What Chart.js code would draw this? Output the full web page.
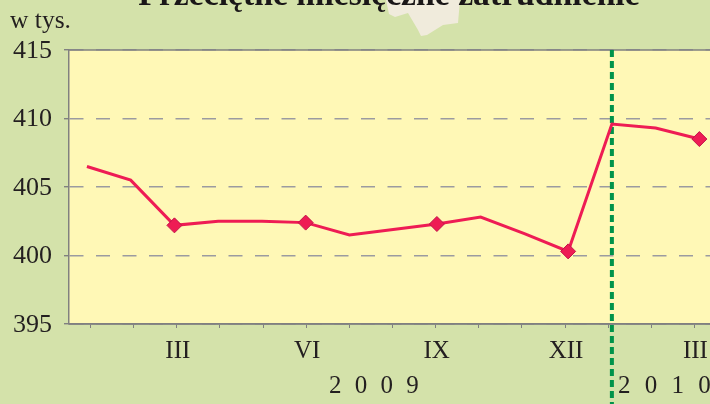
<!DOCTYPE html>
<html>
<head>
<meta charset="utf-8">
<style>
  html, body { margin: 0; padding: 0; width: 710px; height: 404px; overflow: hidden; background: #d4e2aa; }
  canvas { display: block; }
</style>
<script src="https://cdn.jsdelivr.net/npm/chart.js@4"></script>
</head>
<body>
<canvas id="grafico" width="716" height="404"></canvas>
<script>
const etiquetasMes = ['', '', 'III', '', '', 'VI', '', '', 'IX', '', '', 'XII', '', '', 'III'];
const zatrudnienie = [406.5, 405.5, 402.2, 402.5, 402.5, 402.4, 401.5, 401.9, 402.3, 402.8, 401.6, 400.3, 409.6, 409.3, 408.5];
const indiceMes = [0, 1, 2, 3, 4, 5, 6, 7, 8, 9, 10, 11, 12, 13, 14];
const conMarcador = [2, 5, 8, 11, 14];
const ticksY = [395, 400, 405, 410, 415];
const titulo = 'Przeciętne miesięczne zatrudnienie';
const unidad = 'w tys.';
const anio2009 = '2 0 0 9';
const anio2010 = '2 0 1 0';
const indiceCorte = 12; // first month of 2010

const FUENTE = '"Liberation Serif", serif';
const COLOR_TEXTO = '#231f20';
const COLOR_EJE = '#808080';

// Background, decorative shape, title and year captions
const decoracion = {
  id: 'decoracion',
  beforeDraw(chart) {
    const { ctx, chartArea: a } = chart;
    ctx.save();
    ctx.fillStyle = '#fff8b6';
    ctx.fillRect(a.left, a.top, a.right - a.left, a.bottom - a.top);

    ctx.fillStyle = '#f0ebdc';
    ctx.beginPath();
    ctx.moveTo(386, 0);
    ctx.lineTo(389, 14);
    ctx.lineTo(395, 17);
    ctx.lineTo(408, 13);
    ctx.lineTo(418, 30);
    ctx.lineTo(421, 36);
    ctx.lineTo(427, 35);
    ctx.lineTo(443, 25);
    ctx.lineTo(458, 23);
    ctx.lineTo(460, 0);
    ctx.closePath();
    ctx.fill();

    ctx.fillStyle = '#1a1718';
    ctx.textBaseline = 'alphabetic';
    ctx.textAlign = 'center';
    ctx.font = 'bold 33.7px ' + FUENTE;
    ctx.fillText(titulo, 389, 5);

    ctx.fillStyle = COLOR_TEXTO;
    ctx.textAlign = 'left';
    ctx.font = '25.5px ' + FUENTE;
    ctx.fillText(unidad, 10, 28);
    ctx.font = '25px ' + FUENTE;
    ctx.letterSpacing = '3.5px';
    ctx.fillText(anio2009, 329, 393);
    ctx.letterSpacing = '4px';
    ctx.fillText(anio2010, 618, 393);
    ctx.restore();
  },
  beforeDatasetsDraw(chart) {
    const { ctx, chartArea: a, scales } = chart;
    ctx.save();
    // solid top and bottom edges of the plot
    ctx.strokeStyle = COLOR_EJE;
    ctx.lineWidth = 1.5;
    ctx.beginPath();
    ctx.moveTo(a.left, a.top);
    ctx.lineTo(a.right, a.top);
    ctx.moveTo(a.left, a.bottom);
    ctx.lineTo(a.right, a.bottom);
    ctx.stroke();
    // green divider between the years
    const x = scales.xLinea.getPixelForValue(indiceCorte);
    ctx.strokeStyle = '#00934a';
    ctx.lineWidth = 4;
    ctx.setLineDash([7, 4]);
    ctx.beginPath();
    ctx.moveTo(x, a.top);
    ctx.lineTo(x, 404);
    ctx.stroke();
    ctx.restore();
  }
};

new Chart(document.getElementById('grafico'), {
  type: 'line',
  data: {
    labels: etiquetasMes,
    datasets: [{
      data: indiceMes.map((m, i) => ({ x: m, y: zatrudnienie[i] })),
      xAxisID: 'xLinea',
      yAxisID: 'y',
      borderColor: '#ee1c54',
      borderWidth: 3,
      tension: 0,
      pointStyle: 'rectRot',
      pointRadius: ctx => conMarcador.includes(ctx.dataIndex) ? 7.5 : 0,
      pointBackgroundColor: '#ee1c54',
      pointBorderColor: '#c2144a',
      pointBorderWidth: 1,
      clip: false
    }]
  },
  options: {
    responsive: false,
    animation: false,
    layout: { autoPadding: false, padding: { top: 50, left: 0, right: 0, bottom: 0 } },
    plugins: {
      legend: { display: false },
      title: { display: false },
      tooltip: { enabled: false }
    },
    scales: {
      y: {
        min: 395,
        max: 415,
        afterFit(scale) { scale.width = 69; },
        afterBuildTicks(scale) { scale.ticks = ticksY.map(v => ({ value: v })); },
        border: { color: COLOR_EJE, width: 1.5, dash: [14, 12.5] },
        grid: { color: '#9b9ba0', lineWidth: 1.4, tickLength: 5, tickColor: COLOR_EJE, tickBorderDash: [] },
        ticks: { color: COLOR_TEXTO, font: { family: FUENTE, size: 26 }, padding: 12, labelOffset: 1 }
      },
      x: {
        type: 'category',
        offset: true,
        afterFit(scale) { scale.height = 80; },
        border: { color: COLOR_EJE, width: 1.5 },
        grid: { drawOnChartArea: false, tickLength: 4, tickColor: COLOR_EJE, lineWidth: 1 },
        ticks: {
          color: COLOR_TEXTO,
          font: { family: FUENTE, size: 25 },
          autoSkip: false,
          maxRotation: 0,
          padding: 8,
          labelOffset: 1
        }
      },
      // the line in the source sits on a slightly wider month spacing than the axis ticks
      xLinea: {
        type: 'linear',
        display: false,
        min: -0.41,
        max: 14.38
      }
    }
  },
  plugins: [decoracion]
});
</script>
</body>
</html>
